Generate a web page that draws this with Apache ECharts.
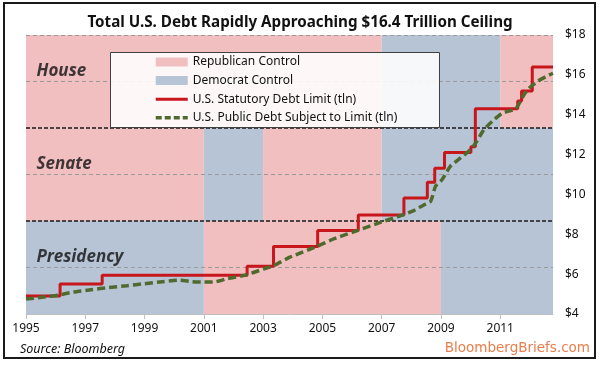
<!DOCTYPE html>
<html><head><meta charset="utf-8">
<script src="https://cdn.jsdelivr.net/npm/echarts@6/dist/echarts.min.js"></script>
<style>html,body{margin:0;padding:0;background:#fff}#c{width:600px;height:365px}</style>
</head><body><div id="c"></div>
<script>
// ---------- data ----------
const titleText = 'Total U.S. Debt Rapidly Approaching $16.4 Trillion Ceiling';
const sourceText = 'Source: Bloomberg';
const brandText = 'BloombergBriefs.com';
const xStart = 1995, xEnd = 2012.78, xLabelStep = 2;
const yMin = 4, yMax = 18, yStep = 2;
const bandNames = ['Presidency', 'Senate', 'House'];           // bottom to top
const presidencyControl = [[1995, 2001, 'D'], [2001, 2009, 'R'], [2009, 2012.78, 'D']];
const senateControl = [[1995, 2001, 'R'], [2001, 2003, 'D'], [2003, 2007, 'R'], [2007, 2012.78, 'D']];
const houseControl = [[1995, 2007, 'R'], [2007, 2011, 'D'], [2011, 2012.78, 'R']];
const legendNames = ['Republican Control', 'Democrat Control', 'U.S. Statutory Debt Limit (tln)', 'U.S. Public Debt Subject to Limit (tln)'];
const limitYears  = [1995.0, 1996.15, 1997.57, 2002.46, 2003.35, 2004.84, 2006.21, 2007.75, 2008.54, 2008.79, 2009.12, 2010.01, 2010.16, 2011.59, 2011.72, 2012.08, 2012.78];
const limitValues = [4.9,    5.5,     5.95,    6.4,     7.384,   8.184,   8.965,   9.815,   10.615,  11.315,  12.104,  12.394,  14.294,  14.694,  15.194,  16.394,  16.394];
const debtYears  = [1995.0, 1995.6, 1996.1, 1996.6, 1997.2, 1997.8, 1998.4, 1999.0, 1999.6, 2000.2, 2000.6, 2001.0, 2001.4, 2001.8, 2002.4, 2003.0, 2003.35, 2003.9, 2004.8, 2005.4, 2006.2, 2007.0, 2007.72, 2008.1, 2008.42, 2008.65, 2008.82, 2009.04, 2009.32, 2009.66, 2010.0, 2010.17, 2010.45, 2010.73, 2011.07, 2011.52, 2011.8, 2011.97, 2012.25, 2012.59, 2012.78];
const debtValues = [4.75,   4.85,   4.95,   5.1,    5.22,   5.33,   5.42,   5.52,   5.62,   5.7,    5.62,   5.6,    5.62,   5.78,   5.95,   6.25,   6.42,    6.85,   7.38,   7.78,   8.2,    8.62,   8.97,    9.2,    9.47,    9.65,    10.42,   10.75,   11.42,   11.83,   12.25,  12.58,   13.25,   13.67,   14.08,   14.3,    15.0,    15.33,   15.67,   15.95,   16.08];

// ---------- build ----------
const COL_R = '#F2BFC0', COL_D = '#B7C4D6';
const COL_LIMIT = '#C8161D', COL_DEBT = '#4F6A2E';
const bandH = (yMax - yMin) / 3;
const controls = [presidencyControl, senateControl, houseControl];
function areas(party) {
  const out = [];
  controls.forEach((list, i) => {
    const lo = yMin + i * bandH, hi = lo + bandH;
    list.forEach(p => { if (p[2] === party) out.push([{xAxis: p[0] - xStart, yAxis: lo}, {xAxis: p[1] - xStart, yAxis: hi}]); });
  });
  return out;
}
const bandCenters = bandNames.map((n, i) => yMin + (i + 0.5) * bandH);
const bandEdges = [1, 2].map(i => yMin + i * bandH);
const FONT = 'Noto Sans';

const chart = echarts.init(document.getElementById('c'), null, {renderer: 'canvas'});
chart.setOption({
  animation: false,
  backgroundColor: '#fff',
  textStyle: {fontFamily: FONT},
  title: {text: titleText, left: 'center', top: 10,
    textStyle: {fontFamily: FONT, fontSize: 15.2, fontWeight: 'bold', color: '#111'}},
  grid: {left: 26, right: 47, top: 35, bottom: 51},
  xAxis: {type: 'value', min: 0, max: xEnd - xStart, interval: xLabelStep,
    axisLine: {lineStyle: {color: '#BFBFBF'}},
    axisTick: {length: 5, lineStyle: {color: '#BFBFBF'}},
    axisLabel: {margin: 9, fontSize: 12, color: '#111', showMaxLabel: false,
      formatter: v => (Math.abs(v - Math.round(v)) < 1e-6 ? String(xStart + v) : '')},
    splitLine: {show: false}},
  yAxis: {type: 'value', position: 'right', min: yMin, max: yMax, interval: yStep,
    axisLine: {show: true, lineStyle: {color: '#BFBFBF'}},
    axisTick: {show: true, length: 5, lineStyle: {color: '#BFBFBF'}},
    axisLabel: {margin: 12, fontSize: 12, color: '#111', formatter: v => '$' + v},
    splitLine: {show: false}},
  legend: {orient: 'vertical', left: 154, top: 52.7, padding: 0, itemGap: 0,
    itemWidth: 32, itemHeight: 9, z: 11,
    textStyle: {fontFamily: FONT, fontSize: 12, color: '#111', lineHeight: 18.6},
    data: [
      {name: legendNames[0], icon: 'rect', itemStyle: {color: COL_R, borderWidth: 0}},
      {name: legendNames[1], icon: 'rect', itemStyle: {color: COL_D, borderWidth: 0}},
      {name: legendNames[2], itemStyle: {opacity: 0}, lineStyle: {width: 3, color: COL_LIMIT}},
      {name: legendNames[3], itemStyle: {opacity: 0}, lineStyle: {width: 3.5, color: COL_DEBT, type: [6, 3]}}
    ]},
  graphic: [
    {type: 'rect', z: 10, shape: {x: 110.5, y: 52.5, width: 329, height: 75},
      style: {fill: 'rgba(255,255,255,0.88)', stroke: '#404040', lineWidth: 1}},
    {type: 'rect', z: 20, shape: {x: 4, y: 3, width: 591, height: 355},
      style: {fill: 'none', stroke: '#1a1a1a', lineWidth: 2}},
    {type: 'text', z: 20, left: 20, top: 343,
      style: {text: sourceText, font: 'italic 12.5px "Noto Sans"', fill: '#111'}},
    {type: 'text', z: 20, right: 10, top: 341,
      style: {text: brandText, font: '13.5px "DejaVu Sans"', fill: '#EB7D4B'}}
  ],
  series: [
    {name: legendNames[0], type: 'line', data: [], color: COL_R, z: 1, silent: true,
      markArea: {silent: true, itemStyle: {color: COL_R}, data: areas('R')}},
    {name: legendNames[1], type: 'line', data: [], color: COL_D, z: 1, silent: true,
      markArea: {silent: true, itemStyle: {color: COL_D}, data: areas('D')}},
    {name: 'gridlines', type: 'line', data: [], z: 2, silent: true,
      markLine: {silent: true, symbol: 'none', label: {show: false},
        data: [
          ...[yMax, ...bandCenters].map(v => ({yAxis: v, lineStyle: {color: '#9a9a9a', type: [4, 3], width: 1}})),
          ...bandEdges.map(v => ({yAxis: v, lineStyle: {color: '#1a1a1a', type: [4, 2], width: 1.6}}))
        ]}},
    {name: 'bandLabels', type: 'scatter', z: 3, silent: true, symbolSize: 1,
      itemStyle: {color: 'rgba(0,0,0,0)'},
      data: bandNames.map((n, i) => ({name: n, value: [0, bandCenters[i]]})),
      label: {show: true, position: 'right', distance: 0, offset: [10, -10], formatter: '{b}',
        fontFamily: FONT, fontSize: 17, fontWeight: 'bold', fontStyle: 'italic', color: '#111'}},
    {name: legendNames[2], type: 'line', z: 5, step: 'end', symbol: 'none', color: COL_LIMIT,
      lineStyle: {width: 3, color: COL_LIMIT},
      data: limitYears.map((y, i) => [y - xStart, limitValues[i]])},
    {name: legendNames[3], type: 'line', z: 6, symbol: 'none', smooth: 0.2, color: COL_DEBT,
      lineStyle: {width: 3.5, color: COL_DEBT, type: [8, 4]},
      data: debtYears.map((y, i) => [y - xStart, debtValues[i]])}
  ]
});
</script></body></html>
